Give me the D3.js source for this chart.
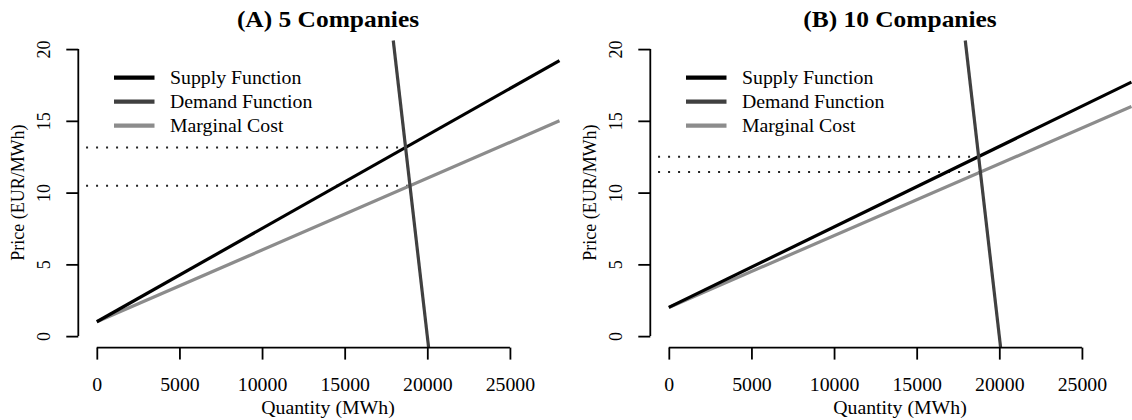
<!DOCTYPE html>
<html>
<head>
<meta charset="utf-8">
<script src="https://cdn.jsdelivr.net/npm/d3@7"></script>
<style>
  html, body { margin: 0; padding: 0; background: #fff; }
  svg { display: block; }
  text { font-family: "Liberation Serif", "Times New Roman", serif; fill: #000; }
</style>
</head>
<body>
<svg id="chart" width="1132" height="420"></svg>
<script>
// ---------------- data ----------------
const panelTitles = ["(A) 5 Companies", "(B) 10 Companies"];
const qTicks = [0, 5000, 10000, 15000, 20000, 25000];
const pTicks = [0, 5, 10, 15, 20];
const legendLabels = ["Supply Function", "Demand Function", "Marginal Cost"];

const lineQ = [0, 28000];
const supplyA = [1, 19.2];
const mcA = [1, 15];
const supplyB = [2, 17.7];
const mcB = [2, 16];

const demandQ = [17940, 20080];
const demandP = [20.6, -0.8];

const eqQtyA = [18685, 18952];
const eqPriceA = [13.15, 10.48];
const eqQtyB = [18750, 18857];
const eqPriceB = [12.5, 11.43];
const dotStartQ = -650;

// ---------------- drawing ----------------
const svg = d3.select("#chart");
const colors = { supply: "#000000", demand: "#404040", mc: "#8c8c8c" };
const SX = 1.1;

const x = d3.scaleLinear().domain([-1120, 29120]).range([78.3, 578]);
const y = d3.scaleLinear().domain([-0.8, 20.8]).range([347.6, 37.6]);

const panels = [
  { title: panelTitles[0], supply: supplyA, mc: mcA, eqQ: eqQtyA, eqP: eqPriceA, off: 0 },
  { title: panelTitles[1], supply: supplyB, mc: mcB, eqQ: eqQtyB, eqP: eqPriceB, off: 572 }
];

const line = d3.line().x(d => x(d[0])).y(d => y(d[1]));

panels.forEach(p => {
  const g = svg.append("g").attr("transform", `translate(${p.off},0)`);

  // dotted equilibrium lines
  p.eqP.forEach((price, i) => {
    g.append("path")
      .attr("d", line([[dotStartQ, price], [p.eqQ[i], price]]))
      .attr("fill", "none").attr("stroke", "#222")
      .attr("stroke-width", 2).attr("stroke-dasharray", "2,8");
  });

  // marginal cost, supply, demand
  g.append("path").attr("d", line(lineQ.map((q, i) => [q, p.mc[i]])))
    .attr("fill", "none").attr("stroke", colors.mc).attr("stroke-width", 3.2);
  g.append("path").attr("d", line(lineQ.map((q, i) => [q, p.supply[i]])))
    .attr("fill", "none").attr("stroke", colors.supply).attr("stroke-width", 3.2);
  g.append("path").attr("d", line(demandQ.map((q, i) => [q, demandP[i]])))
    .attr("fill", "none").attr("stroke", colors.demand).attr("stroke-width", 3.2);

  // x axis
  const xa = g.append("g").attr("transform", `translate(0,${y(-0.8)})`)
    .call(d3.axisBottom(x).tickValues(qTicks).tickSize(12).tickSizeOuter(0).tickFormat(d3.format("d")));
  xa.select(".domain").remove();
  xa.append("line").attr("x1", x(qTicks[0])).attr("x2", x(qTicks[qTicks.length - 1]))
    .attr("y1", 0).attr("y2", 0).attr("stroke", "#000").attr("stroke-width", 1.8);
  xa.selectAll(".tick line").attr("stroke", "#000").attr("stroke-width", 1.8);
  xa.selectAll(".tick text")
    .attr("y", 43.4).attr("dy", 0).attr("transform", `scale(${SX},1)`)
    .style("font-size", "18px").style("font-family", "Liberation Serif, serif").attr("fill", "#000");

  // y axis
  const ya = g.append("g").attr("transform", `translate(${x(-1120)},0)`)
    .call(d3.axisLeft(y).tickValues(pTicks).tickSize(12).tickSizeOuter(0).tickFormat(d3.format("d")));
  ya.select(".domain").remove();
  ya.append("line").attr("x1", 0).attr("x2", 0)
    .attr("y1", y(pTicks[0])).attr("y2", y(pTicks[pTicks.length - 1]))
    .attr("stroke", "#000").attr("stroke-width", 1.8);
  ya.selectAll(".tick line").attr("stroke", "#000").attr("stroke-width", 1.8);
  ya.selectAll(".tick text")
    .attr("x", 0).attr("y", 0).attr("dy", 0)
    .attr("text-anchor", "middle")
    .attr("transform", `translate(-28,0) scale(${SX},1) rotate(-90)`)
    .style("font-size", "18px").style("font-family", "Liberation Serif, serif").attr("fill", "#000");

  // axis titles
  g.append("text").attr("text-anchor", "middle")
    .attr("transform", `translate(328,414) scale(${SX},1)`)
    .style("font-size", "18px").text("Quantity (MWh)");
  g.append("text").attr("text-anchor", "middle")
    .attr("transform", `translate(24,192.6) scale(${SX},1) rotate(-90)`)
    .style("font-size", "18px").text("Price (EUR/MWh)");

  // title
  g.append("text").attr("text-anchor", "middle")
    .attr("transform", `translate(328,26.7) scale(1.06,1)`)
    .style("font-size", "24px").style("font-weight", "bold").text(p.title);

  // legend
  const legColors = [colors.supply, colors.demand, colors.mc];
  legendLabels.forEach((lab, i) => {
    const ly = 77.6 + i * 24;
    g.append("line").attr("x1", 114).attr("x2", 154.5).attr("y1", ly).attr("y2", ly)
      .attr("stroke", legColors[i]).attr("stroke-width", 4.2);
    g.append("text").attr("transform", `translate(170,${ly + 6}) scale(${SX},1)`)
      .style("font-size", "18px").text(lab);
  });
});
</script>
</body>
</html>
